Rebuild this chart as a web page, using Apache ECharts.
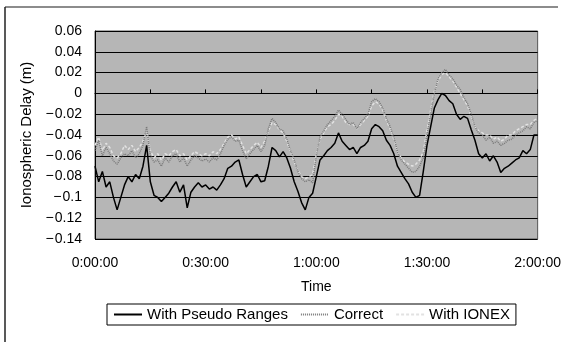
<!DOCTYPE html>
<html>
<head>
<meta charset="utf-8">
<script src="https://cdn.jsdelivr.net/npm/echarts@6/dist/echarts.min.js"></script>
<style>html,body{margin:0;padding:0;background:#fff;}#c{width:564px;height:342px;}</style>
</head>
<body>
<div id="c"></div>
<script>
// time in minutes from 0:00:00
var minutes = [0,1,2,3,4,5,6,7,8,9,10,11,12,13,14,15,16,17,18,19,20,21,22,23,24,25,26,27,28,29,30,31,32,33,34,35,36,37,38,39,40,41,42,43,44,45,46,47,48,49,50,51,52,53,54,55,56,57,58,59,60,61,62,63,64,65,66,67,68,69,70,71,72,73,74,75,76,77,78,79,80,81,82,83,84,85,86,87,88,89,90,91,92,93,94,95,96,97,98,99,100,101,102,103,104,105,106,107,108,109,110,111,112,113,114,115,116,117,118,119,120];

var pseudoRanges = [-0.07,-0.085,-0.075,-0.09,-0.085,-0.1,-0.112,-0.1,-0.088,-0.08,-0.085,-0.078,-0.082,-0.07,-0.05,-0.085,-0.098,-0.1,-0.104,-0.1,-0.096,-0.09,-0.085,-0.095,-0.088,-0.11,-0.095,-0.09,-0.086,-0.09,-0.088,-0.092,-0.09,-0.093,-0.088,-0.082,-0.072,-0.07,-0.066,-0.064,-0.078,-0.09,-0.085,-0.08,-0.078,-0.085,-0.084,-0.07,-0.052,-0.055,-0.061,-0.056,-0.062,-0.072,-0.085,-0.094,-0.105,-0.112,-0.1,-0.096,-0.08,-0.064,-0.06,-0.055,-0.052,-0.048,-0.038,-0.046,-0.05,-0.054,-0.052,-0.058,-0.052,-0.05,-0.046,-0.034,-0.03,-0.032,-0.036,-0.045,-0.05,-0.058,-0.07,-0.076,-0.082,-0.087,-0.095,-0.1,-0.098,-0.075,-0.05,-0.032,-0.014,-0.006,0.0,-0.002,-0.007,-0.01,-0.02,-0.025,-0.022,-0.024,-0.035,-0.045,-0.058,-0.062,-0.058,-0.065,-0.06,-0.066,-0.076,-0.072,-0.07,-0.067,-0.064,-0.062,-0.055,-0.058,-0.054,-0.04,-0.04];

var correct = [-0.055,-0.045,-0.06,-0.052,-0.058,-0.065,-0.068,-0.062,-0.058,-0.06,-0.055,-0.062,-0.058,-0.05,-0.032,-0.06,-0.066,-0.064,-0.07,-0.062,-0.066,-0.06,-0.058,-0.066,-0.062,-0.07,-0.064,-0.06,-0.062,-0.065,-0.063,-0.066,-0.062,-0.064,-0.058,-0.05,-0.044,-0.042,-0.046,-0.045,-0.055,-0.063,-0.058,-0.054,-0.05,-0.056,-0.05,-0.034,-0.024,-0.028,-0.034,-0.036,-0.044,-0.055,-0.064,-0.075,-0.082,-0.085,-0.083,-0.086,-0.06,-0.042,-0.036,-0.03,-0.026,-0.022,-0.016,-0.02,-0.025,-0.03,-0.028,-0.034,-0.028,-0.024,-0.02,-0.008,-0.005,-0.008,-0.014,-0.024,-0.032,-0.042,-0.056,-0.064,-0.068,-0.072,-0.076,-0.075,-0.07,-0.062,-0.04,-0.02,0.0,0.014,0.02,0.023,0.018,0.014,0.008,0.004,-0.004,-0.01,-0.02,-0.032,-0.038,-0.04,-0.045,-0.042,-0.048,-0.046,-0.05,-0.048,-0.045,-0.044,-0.04,-0.038,-0.036,-0.032,-0.034,-0.028,-0.026];

var ionex = [-0.05,-0.042,-0.055,-0.048,-0.052,-0.06,-0.062,-0.058,-0.05,-0.054,-0.05,-0.056,-0.052,-0.046,-0.036,-0.055,-0.062,-0.058,-0.064,-0.058,-0.06,-0.056,-0.054,-0.06,-0.058,-0.064,-0.06,-0.056,-0.058,-0.06,-0.058,-0.06,-0.056,-0.058,-0.054,-0.048,-0.042,-0.04,-0.044,-0.042,-0.05,-0.058,-0.054,-0.05,-0.047,-0.052,-0.046,-0.036,-0.028,-0.03,-0.035,-0.038,-0.046,-0.056,-0.066,-0.074,-0.08,-0.082,-0.08,-0.078,-0.058,-0.044,-0.038,-0.032,-0.03,-0.026,-0.02,-0.022,-0.028,-0.03,-0.03,-0.034,-0.03,-0.026,-0.022,-0.012,-0.008,-0.01,-0.016,-0.026,-0.034,-0.044,-0.056,-0.062,-0.066,-0.068,-0.07,-0.068,-0.064,-0.056,-0.036,-0.016,0.002,0.012,0.018,0.02,0.016,0.012,0.006,0.0,-0.006,-0.012,-0.022,-0.032,-0.036,-0.038,-0.04,-0.04,-0.044,-0.042,-0.046,-0.044,-0.04,-0.04,-0.036,-0.034,-0.032,-0.03,-0.03,-0.026,-0.024];

var seriesNames = ['With Pseudo Ranges', 'Correct', 'With IONEX'];
var yAxisTitle = 'Ionospheric Delay (m)';
var xAxisTitle = 'Time';

function pairs(xs, ys) { return xs.map(function (x, i) { return [x, ys[i]]; }); }
function fmtTime(v) {
  var h = Math.floor(v / 60), m = v % 60;
  return h + ':' + (m < 10 ? '0' : '') + m + ':00';
}
function fmtY(v) {
  var r = Math.round(v * 100) / 100;
  var s = String(Math.abs(r));
  return (r < 0 ? '\u2212\u200A' : '') + s;
}

var FONT = "'Liberation Sans', Arial, sans-serif";
var chart = echarts.init(document.getElementById('c'), null, { renderer: 'canvas' });
chart.setOption({
  animation: false,
  textStyle: { fontFamily: FONT, color: '#000' },
  graphic: [
    { type: 'line', shape: { x1: 5, y1: 7, x2: 558, y2: 7 }, style: { stroke: '#666', lineWidth: 1.5 }, z: 0 },
    { type: 'line', shape: { x1: 5, y1: 7, x2: 5, y2: 342 }, style: { stroke: '#222', lineWidth: 1.5 }, z: 0 }
  ],
  grid: {
    left: 95, right: 24, top: 31, bottom: 103,
    show: true, backgroundColor: '#b6b6b6', borderColor: '#555', borderWidth: 1
  },
  legend: {
    data: seriesNames,
    left: 107, top: 304,
    borderColor: '#000', borderWidth: 1, borderRadius: 0,
    backgroundColor: '#fff',
    padding: [3, 6, 3, 6],
    itemGap: 12, itemWidth: 28, itemHeight: 10,
    itemStyle: { opacity: 0 },
    textStyle: { fontSize: 15, fontFamily: FONT, color: '#000' }
  },
  xAxis: [
    {
      type: 'value', min: 0, max: 120, interval: 30,
      name: xAxisTitle, nameLocation: 'middle', nameGap: 41,
      nameTextStyle: { fontSize: 14, color: '#000', fontFamily: FONT },
      axisLine: { show: false, onZero: false },
      axisTick: { show: false },
      splitLine: { show: false },
      axisLabel: { formatter: fmtTime, fontSize: 14, color: '#000', margin: 17, fontFamily: FONT }
    },
    {
      type: 'value', min: 0, max: 120, interval: 15, position: 'bottom',
      axisLine: { show: true, onZero: true, lineStyle: { color: '#000', width: 1 } },
      axisTick: { show: true, inside: true, length: 4, lineStyle: { color: '#000' } },
      axisLabel: { show: false },
      splitLine: { show: false }
    }
  ],
  yAxis: {
    type: 'value', min: -0.14, max: 0.06, interval: 0.02,
    name: yAxisTitle, nameLocation: 'middle', nameGap: 57, nameRotate: 90,
    nameTextStyle: { fontSize: 15, color: '#000', fontFamily: FONT },
    axisLine: { show: true, lineStyle: { color: '#000', width: 1 } },
    axisTick: { show: false },
    splitLine: { show: true, lineStyle: { color: '#000', width: 1 } },
    axisLabel: { formatter: fmtY, fontSize: 14, color: '#000', margin: 13, fontFamily: FONT }
  },
  series: [
    {
      name: seriesNames[2], type: 'line', xAxisIndex: 0, data: pairs(minutes, ionex),
      symbol: 'none', lineStyle: { color: '#e2e2e2', width: 1.5, type: [3, 2] }, itemStyle: { color: '#d0d0d0' }, z: 2
    },
    {
      name: seriesNames[1], type: 'line', xAxisIndex: 0, data: pairs(minutes, correct),
      symbol: 'none', lineStyle: { color: '#7a7a7a', width: 1.5, type: [1, 1] }, itemStyle: { color: '#7a7a7a' }, z: 3
    },
    {
      name: seriesNames[0], type: 'line', xAxisIndex: 0, data: pairs(minutes, pseudoRanges),
      symbol: 'none', lineStyle: { color: '#000', width: 1.5 }, itemStyle: { color: '#000' }, z: 4
    }
  ]
});
</script>
</body>
</html>
